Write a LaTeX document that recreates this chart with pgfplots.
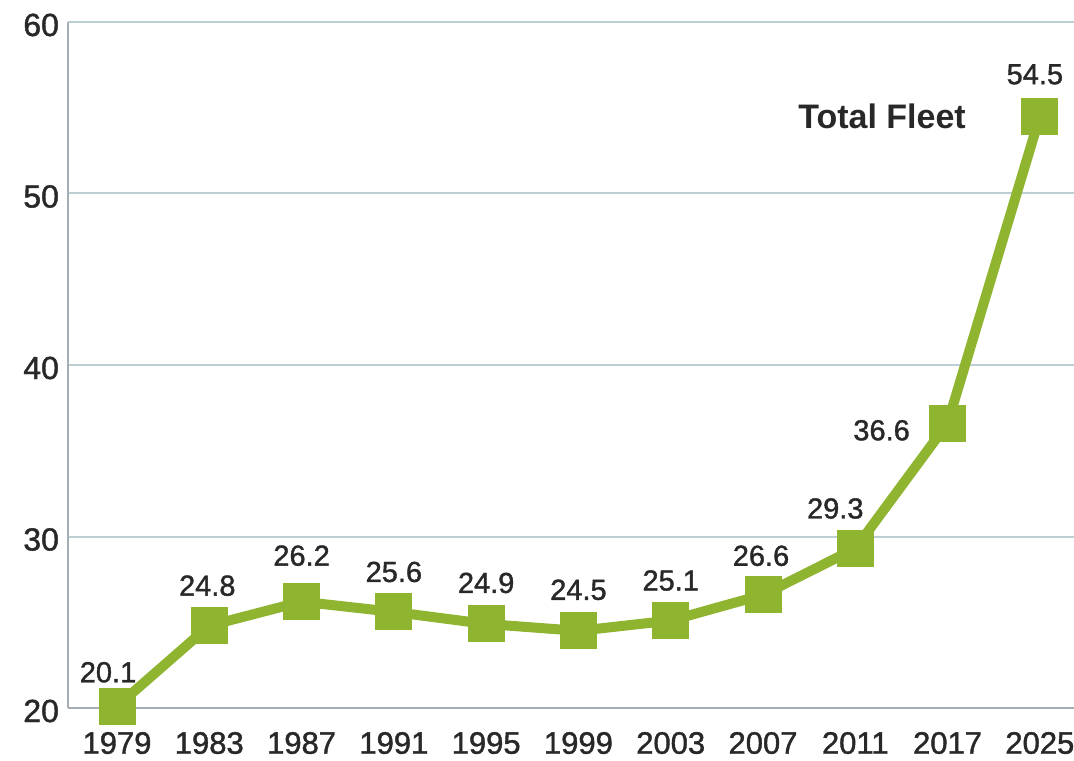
\documentclass[border=0pt]{standalone}
\usepackage{pgfplots}
\pgfplotsset{compat=1.18}
\usepackage{fontspec}
\setmainfont{Liberation Sans}
\newfontfamily\semib[FakeBold=1.3]{Liberation Sans}

\definecolor{fleetgreen}{RGB}{142,180,48}
\definecolor{gridc}{RGB}{188,206,212}
\definecolor{axisc}{RGB}{165,175,180}
\definecolor{txt}{RGB}{40,40,40}

\begin{document}
\begin{tikzpicture}
\begin{axis}[
    at={(34pt,26pt)}, anchor=south west,
    scale only axis,
    width=503pt, height=343pt,
    xmin=-0.531, xmax=10.37,
    ymin=20, ymax=60,
    axis lines=left,
    axis line style={-, axisc, line width=1pt},
    ytick={20,30,40,50,60},
    xtick={0,...,10},
    xticklabels={1979,1983,1987,1991,1995,1999,2003,2007,2011,2017,2025},
    major tick length=0pt,
    ymajorgrids,
    grid style={gridc, line width=1pt},
    /pgf/number format/assume math mode=true,
    yticklabel style={font=\semib\fontsize{16}{18}\selectfont, text=txt, xshift=-1pt, yshift=-1.5pt},
    xticklabel style={font=\semib\fontsize{15.5}{18}\selectfont, text=txt, yshift=-8.5pt},
    clip=false,
]
\addplot[fleetgreen, line width=5pt, mark=square*,
         mark options={mark size=9pt, line width=0pt, fill=fleetgreen}]
  coordinates {(0,20.1)(1,24.8)(2,26.2)(3,25.6)(4,24.9)(5,24.5)(6,25.1)(7,26.6)(8,29.3)(9,36.6)(10,54.5)};

\begin{scope}[every node/.style={font=\semib\fontsize{14.5}{17}\selectfont, text=txt}]
\node[shift={(-4.5pt,17pt)}] at (axis cs:0,20.1) {20.1};
\node[shift={(-1pt,20pt)}] at (axis cs:1,24.8) {24.8};
\node[shift={(0pt,23pt)}] at (axis cs:2,26.2) {26.2};
\node[shift={(0pt,20pt)}] at (axis cs:3,25.6) {25.6};
\node[shift={(0pt,20.5pt)}] at (axis cs:4,24.9) {24.9};
\node[shift={(0pt,20.5pt)}] at (axis cs:5,24.5) {24.5};
\node[shift={(0pt,20pt)}] at (axis cs:6,25.1) {25.1};
\node[shift={(-1pt,19.5pt)}] at (axis cs:7,26.6) {26.6};
\node[shift={(-10pt,20pt)}] at (axis cs:8,29.3) {29.3};
\node[shift={(-33pt,-3.5pt)}] at (axis cs:9,36.6) {36.6};
\node[shift={(-2.5pt,21pt)}] at (axis cs:10,54.5) {54.5};
\end{scope}
\node[anchor=east, font=\bfseries\fontsize{17}{20}\selectfont, text=txt, shift={(-33.5pt,0pt)}] at (axis cs:10,54.5) {Total Fleet};
\end{axis}
\pgfresetboundingbox
\useasboundingbox (0,0) rectangle (537pt,380pt);
\end{tikzpicture}
\end{document}
